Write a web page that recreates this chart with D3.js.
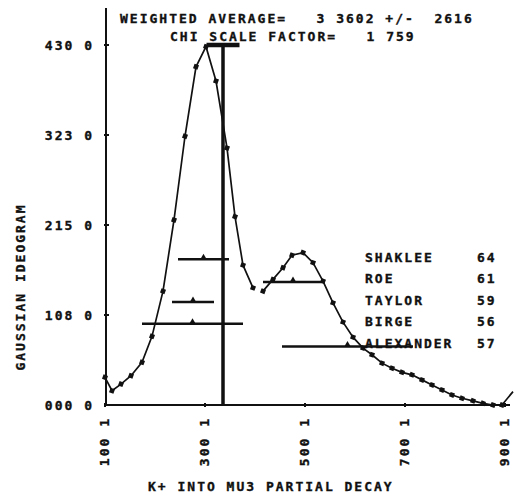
<!DOCTYPE html>
<html>
<head>
<meta charset="utf-8">
<title>K+ into MU3 partial decay - Gaussian ideogram</title>
<script src="https://cdn.jsdelivr.net/npm/d3@7"></script>
<style>
  body { margin: 0; background: #fff; }
  text {
    font-family: "DejaVu Sans Mono", monospace;
    font-weight: bold;
    font-size: 13px;
    letter-spacing: 2px;
    fill: #111;
    stroke: #111;
    stroke-width: 0.35px;
    white-space: pre;
  }
</style>
</head>
<body>
<svg id="chart" width="515" height="497"></svg>
<script>
// ideogram curve (x in axis units, y in ideogram units)
var curveX = [100, 114, 132, 152, 174, 194, 216, 238, 260, 282, 302, 322, 344, 360, 376, 396,
              416, 436, 456, 474, 496, 516, 536, 556, 576, 596, 616, 634, 654, 674, 694, 714,
              734, 754, 774, 794, 814, 836, 856, 876, 894, 916];
var curveY = [33, 17, 25, 35, 51, 82, 136, 221, 321, 404, 428, 387, 307, 225, 167, 140,
              136, 150, 164, 179, 182, 170, 148, 122, 99, 81, 68, 60, 50, 44, 39, 36,
              30, 24, 18, 12, 8, 5, 2, 0, 0, 16];
var curveBreakAt = 416;   // pen lifted before this point

// individual measurements drawn as horizontal bars
var barCenter = [297, 276, 275, 476, 585];
var barHalf = [51, 42, 101, 60, 131];
var barHeight = [174, 123, 97, 147, 70];

// legend
var authors = ["SHAKLEE", "ROE", "TAYLOR", "BIRGE", "ALEXANDER"];
var years = ["64", "61", "59", "56", "57"];

// weighted average marker
var avgValue = 336;
var avgHalf = 33;

// axes
var yTicks = [0, 107.5, 215, 322.5, 430];
var yTickLabels = ["000 0", "108 0", "215 0", "323 0", "430 0"];
var xTicks = [100, 300, 500, 700, 900];
var xTickLabels = ["100 1", "300 1", "500 1", "700 1", "900 1"];

var svg = d3.select("#chart");

var x = d3.scaleLinear().domain([100, 900]).range([105, 505]);
var y = d3.scaleLinear().domain([0, 430]).range([405, 45]);

// axis lines
svg.append("line")
    .attr("x1", 106).attr("x2", 106)
    .attr("y1", 8).attr("y2", y(0))
    .attr("stroke", "#111").attr("stroke-width", 2);
svg.append("line")
    .attr("x1", 104).attr("x2", 510)
    .attr("y1", y(0)).attr("y2", y(0))
    .attr("stroke", "#111").attr("stroke-width", 2);

// y ticks + labels
svg.selectAll(".ytick")
    .data(yTicks)
    .enter().append("line")
    .attr("class", "ytick")
    .attr("x1", 104).attr("x2", 109)
    .attr("y1", function(d) { return y(d); })
    .attr("y2", function(d) { return y(d); })
    .attr("stroke", "#111").attr("stroke-width", 2);

svg.selectAll(".ylab")
    .data(yTicks)
    .enter().append("text")
    .attr("class", "ylab")
    .attr("x", 94)
    .attr("y", function(d) { return y(d); })
    .attr("dy", "0.35em")
    .attr("text-anchor", "end")
    .text(function(d, i) { return yTickLabels[i]; });

// x ticks + labels
svg.selectAll(".xtick")
    .data(xTicks)
    .enter().append("line")
    .attr("class", "xtick")
    .attr("x1", function(d) { return x(d); })
    .attr("x2", function(d) { return x(d); })
    .attr("y1", y(0) - 2).attr("y2", y(0) + 2)
    .attr("stroke", "#111").attr("stroke-width", 2);

svg.selectAll(".xlab")
    .data(xTicks)
    .enter().append("text")
    .attr("class", "xlab")
    .attr("transform", function(d) {
        return "translate(" + (x(d) + 4) + ",417) rotate(-90)";
    })
    .attr("text-anchor", "end")
    .text(function(d, i) { return xTickLabels[i]; });

// axis titles
svg.append("text")
    .attr("x", 148).attr("y", 491)
    .text("K+ INTO MU3 PARTIAL DECAY");

svg.append("text")
    .attr("transform", "translate(25,287) rotate(-90)")
    .attr("text-anchor", "middle")
    .text("GAUSSIAN IDEOGRAM");

// header
svg.append("text").attr("x", 120).attr("y", 23).text("WEIGHTED AVERAGE=   3 3602 +/-  2616");
svg.append("text").attr("x", 170).attr("y", 41).text("CHI SCALE FACTOR=   1 759");

// ideogram curve
var pts = curveX.map(function(d, i) { return { x: d, y: curveY[i] }; });
var line = d3.line()
    .x(function(d) { return x(d.x); })
    .y(function(d) { return y(d.y); });

svg.append("path")
    .datum(pts.filter(function(d) { return d.x < curveBreakAt; }))
    .attr("d", line)
    .attr("fill", "none").attr("stroke", "#111").attr("stroke-width", 1.7);
svg.append("path")
    .datum(pts.filter(function(d) { return d.x >= curveBreakAt; }))
    .attr("d", line)
    .attr("fill", "none").attr("stroke", "#111").attr("stroke-width", 1.7);

svg.selectAll(".pt")
    .data(pts.filter(function(d) { return d.x <= 900; }))
    .enter().append("path")
    .attr("class", "pt")
    .attr("transform", function(d) { return "translate(" + x(d.x) + "," + y(d.y) + ") rotate(20)"; })
    .attr("d", d3.symbol().type(d3.symbolSquare).size(22))
    .attr("fill", "#111");

// measurement bars
var bars = barCenter.map(function(d, i) { return { c: d, h: barHalf[i], v: barHeight[i] }; });
svg.selectAll(".bar")
    .data(bars)
    .enter().append("line")
    .attr("class", "bar")
    .attr("x1", function(d) { return x(d.c - d.h); })
    .attr("x2", function(d) { return x(d.c + d.h); })
    .attr("y1", function(d) { return y(d.v); })
    .attr("y2", function(d) { return y(d.v); })
    .attr("stroke", "#111").attr("stroke-width", 2.5);
svg.selectAll(".barmid")
    .data(bars)
    .enter().append("path")
    .attr("class", "barmid")
    .attr("transform", function(d) { return "translate(" + x(d.c) + "," + (y(d.v) - 2) + ")"; })
    .attr("d", d3.symbol().type(d3.symbolTriangle).size(16))
    .attr("fill", "#111");

// weighted average "T"
svg.append("line")
    .attr("x1", x(avgValue)).attr("x2", x(avgValue))
    .attr("y1", y(430)).attr("y2", y(0))
    .attr("stroke", "#111").attr("stroke-width", 3.5);
svg.append("line")
    .attr("x1", x(avgValue - avgHalf)).attr("x2", x(avgValue + avgHalf))
    .attr("y1", y(430)).attr("y2", y(430))
    .attr("stroke", "#111").attr("stroke-width", 4.5);

// legend
svg.selectAll(".auth")
    .data(authors)
    .enter().append("text")
    .attr("class", "auth")
    .attr("x", 365)
    .attr("y", function(d, i) { return 257 + i * 21.5; })
    .attr("dy", "0.35em")
    .text(function(d) { return d; });
svg.selectAll(".yr")
    .data(years)
    .enter().append("text")
    .attr("class", "yr")
    .attr("x", 477)
    .attr("y", function(d, i) { return 257 + i * 21.5; })
    .attr("dy", "0.35em")
    .text(function(d) { return d; });
</script>
</body>
</html>
